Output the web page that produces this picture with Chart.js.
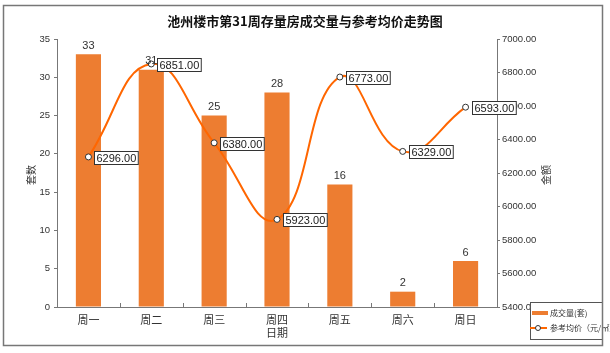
<!DOCTYPE html>
<html>
<head>
<meta charset="utf-8">
<script src="https://cdn.jsdelivr.net/npm/chart.js@4"></script>
<style>
  html, body { margin: 0; padding: 0; background: #fff; }
  #wrap { width: 610px; height: 353px; position: relative; }
</style>
</head>
<body>
<div id="wrap"><canvas id="c" width="610" height="353"></canvas></div>
<script>
// ---- data ----
const days = ['周一', '周二', '周三', '周四', '周五', '周六', '周日'];
const deals = [33, 31, 25, 28, 16, 2, 6];
const prices = [6296, 6851, 6380, 5923, 6773, 6329, 6593];

const titleText = '池州楼市第31周存量房成交量与参考均价走势图';
const leftTitle = '套数';
const rightTitle = '金额';
const xTitle = '日期';
const dealLabel = '成交量(套)';
const priceLabel = '参考均价（元/㎡）';

const tickFont = { family: 'Liberation Sans, Arial, sans-serif', size: 9.5 };
const cjk = '"Noto Sans CJK SC", sans-serif';

// labels, titles, legend, frame
const extras = {
  id: 'extras',
  afterDatasetsDraw(chart) {
    const ctx = chart.ctx;
    const area = chart.chartArea;
    ctx.save();

    // x axis tick marks pointing up, at category boundaries
    const xs = chart.scales.x;
    ctx.strokeStyle = '#777';
    ctx.lineWidth = 1;
    for (let i = 1; i < days.length; i++) {
      const x = Math.round((xs.getPixelForValue(i - 1) + xs.getPixelForValue(i)) / 2) + 0.5;
      ctx.beginPath();
      ctx.moveTo(x, area.bottom);
      ctx.lineTo(x, area.bottom - 4);
      ctx.stroke();
    }

    // bar value labels
    const barMeta = chart.getDatasetMeta(0);
    ctx.font = '11px Liberation Sans, Arial, sans-serif';
    ctx.fillStyle = '#333';
    ctx.textAlign = 'center';
    ctx.textBaseline = 'bottom';
    barMeta.data.forEach((el, i) => {
      ctx.fillText(String(deals[i]), el.x, el.y - 3);
    });

    // price labels in boxes
    const lineMeta = chart.getDatasetMeta(1);
    ctx.textAlign = 'left';
    ctx.textBaseline = 'middle';
    lineMeta.data.forEach((el, i) => {
      const t = prices[i].toFixed(2);
      const w = ctx.measureText(t).width + 4;
      const bx = Math.round(el.x + 6) + 0.5;
      const by = Math.round(el.y - 6) + 0.5;
      ctx.fillStyle = '#fff';
      ctx.fillRect(bx, by, w, 13);
      ctx.strokeStyle = '#333';
      ctx.lineWidth = 1;
      ctx.strokeRect(bx, by, w, 13);
      ctx.fillStyle = '#222';
      ctx.fillText(t, bx + 2, by + 7);
    });

    // title
    ctx.font = 'bold 13px ' + cjk;
    ctx.fillStyle = '#111';
    ctx.textAlign = 'center';
    ctx.fillText(titleText, 305, 21);

    // axis titles
    ctx.font = '10px ' + cjk;
    ctx.fillStyle = '#333';
    ctx.save();
    ctx.translate(31, 175);
    ctx.rotate(-Math.PI / 2);
    ctx.fillText(leftTitle, 0, 0);
    ctx.restore();
    ctx.save();
    ctx.translate(546, 175);
    ctx.rotate(-Math.PI / 2);
    ctx.fillText(rightTitle, 0, 0);
    ctx.restore();
    ctx.font = '11px ' + cjk;
    ctx.fillText(xTitle, (area.left + area.right) / 2, 333);

    // legend
    ctx.fillStyle = '#fff';
    ctx.fillRect(530.5, 302.5, 72, 37);
    ctx.strokeStyle = '#555';
    ctx.strokeRect(530.5, 302.5, 72, 37);
    ctx.fillStyle = '#ED7D31';
    ctx.fillRect(532, 311, 16, 4);
    ctx.strokeStyle = '#FF6600';
    ctx.lineWidth = 2;
    ctx.beginPath();
    ctx.moveTo(530, 328);
    ctx.lineTo(547, 328);
    ctx.stroke();
    ctx.lineWidth = 1;
    ctx.fillStyle = '#fff';
    ctx.strokeStyle = '#333';
    ctx.beginPath();
    ctx.arc(538, 328, 2.5, 0, Math.PI * 2);
    ctx.fill();
    ctx.stroke();
    ctx.font = '8px ' + cjk;
    ctx.fillStyle = '#333';
    ctx.textAlign = 'left';
    ctx.fillText(dealLabel, 550, 313);
    ctx.fillText(priceLabel, 550, 328);

    // outer frame
    ctx.strokeStyle = '#777';
    ctx.lineWidth = 1.5;
    ctx.strokeRect(3.5, 5.5, 599, 340);

    ctx.restore();
  }
};

new Chart(document.getElementById('c'), {
  type: 'bar',
  data: {
    labels: days,
    datasets: [{
      label: dealLabel,
      data: deals,
      backgroundColor: '#ED7D31',
      yAxisID: 'y',
      categoryPercentage: 1,
      barPercentage: 0.4,
      order: 2
    }, {
      type: 'line',
      label: priceLabel,
      data: prices,
      yAxisID: 'y1',
      borderColor: '#FF6600',
      borderWidth: 2,
      tension: 0.45,
      pointRadius: 3,
      pointBackgroundColor: '#fff',
      pointBorderColor: '#333',
      pointBorderWidth: 1,
      order: 1
    }]
  },
  options: {
    responsive: false,
    animation: false,
    layout: { padding: { left: 10, right: 10, top: 39, bottom: 10 } },
    plugins: { legend: { display: false }, title: { display: false }, tooltip: { enabled: false } },
    scales: {
      x: {
        grid: { display: true, drawOnChartArea: false, drawTicks: false, color: '#777' },
        border: { color: '#777' },
        ticks: { font: { family: cjk, size: 11 }, color: '#333', padding: 6 },
        afterFit(s) { s.height = 36; }
      },
      y: {
        position: 'left',
        min: 0, max: 35,
        ticks: { stepSize: 5, font: tickFont, color: '#333', padding: 4 },
        grid: { display: true, drawOnChartArea: false, tickLength: 3, color: '#777' },
        border: { color: '#777' },
        afterFit(s) { s.width = 47; }
      },
      y1: {
        position: 'right',
        min: 5400, max: 7000,
        ticks: {
          stepSize: 200, font: tickFont, color: '#333', padding: 2,
          callback: v => v.toFixed(2)
        },
        grid: { display: true, drawOnChartArea: false, tickLength: 3, color: '#777' },
        border: { color: '#777' },
        afterFit(s) { s.width = 103; }
      }
    }
  },
  plugins: [extras]
});
</script>
</body>
</html>
